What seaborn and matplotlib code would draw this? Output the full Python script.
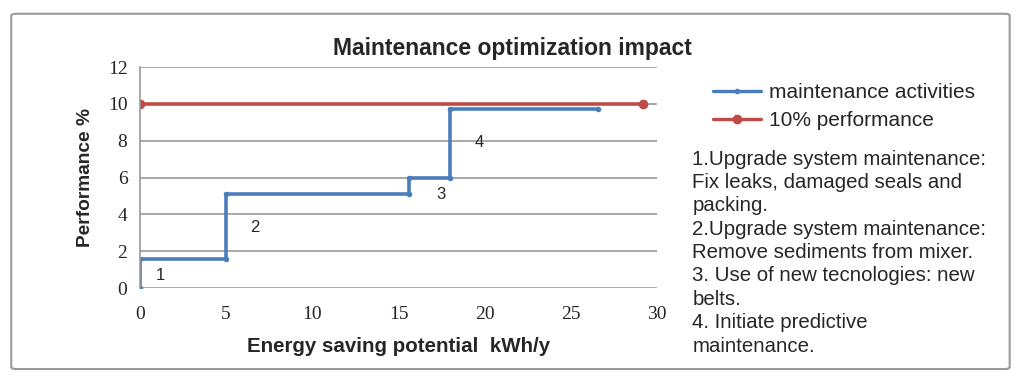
import matplotlib
matplotlib.use('Agg')
import matplotlib.pyplot as plt
from matplotlib.patches import FancyBboxPatch
from matplotlib.lines import Line2D
import pandas as pd
import seaborn as sns

# step curve of the maintenance activities (vertices)
maint_x = [0, 0, 5, 5, 15.6, 15.6, 18, 18, 26.6]
maint_y = [0, 1.6, 1.6, 5.1, 5.1, 6.0, 6.0, 9.7, 9.7]
# 10 % performance reference line
perf_x = [0, 29.2]
perf_y = [10, 10]

step_labels = ['1', '2', '3', '4']
step_label_x = [0.9, 6.4, 17.2, 19.4]
step_label_y = [0.7, 3.3, 5.1, 7.9]

notes = [
    '1.Upgrade system maintenance:',
    'Fix leaks, damaged seals and',
    'packing.',
    '2.Upgrade system maintenance:',
    'Remove sediments from mixer.',
    '3. Use of new tecnologies: new',
    'belts.',
    '4. Initiate predictive',
    'maintenance.',
]

blue = '#4a7ebb'
red = '#be4b48'

sns.set_theme(style='white')
plt.rcParams['font.family'] = ['Liberation Sans', 'DejaVu Sans']

fig = plt.figure(figsize=(10.24, 3.82), dpi=100)
ax = fig.add_axes([0.1367, 0.246, 0.5049, 0.5786])

df_m = pd.DataFrame({'x': maint_x, 'y': maint_y})
df_p = pd.DataFrame({'x': perf_x, 'y': perf_y})
sns.lineplot(data=df_p, x='x', y='y', sort=False, estimator=None, ax=ax, color=red,
             linewidth=2.6, marker='o', markersize=7, markeredgewidth=0)
sns.lineplot(data=df_m, x='x', y='y', sort=False, estimator=None, ax=ax, color=blue,
             linewidth=2.6, marker='o', markersize=4, markeredgewidth=0)

for t, x, y in zip(step_labels, step_label_x, step_label_y):
    ax.text(x, y, t, fontsize=12, family='Liberation Sans', va='center', ha='left')

ax.set_xlim(0, 30)
ax.set_ylim(0, 12)
ax.set_xticks(range(0, 31, 5))
ax.set_yticks(range(0, 13, 2))
ax.yaxis.grid(True, color='#9a9a9a', linewidth=1.2)
ax.set_axisbelow(True)
for s in ['top', 'right', 'bottom']:
    ax.spines[s].set_visible(False)
ax.spines['left'].set_color('#9a9a9a')
ax.spines['left'].set_linewidth(1.2)
ax.tick_params(axis='y', length=0, pad=9, labelsize=14)
ax.tick_params(axis='x', length=0, pad=13, labelsize=14)
for lab in ax.get_xticklabels() + ax.get_yticklabels():
    lab.set_family('Liberation Serif')
ax.set_xlabel('Energy saving potential  kWh/y', fontsize=14.8, fontweight='bold', labelpad=10)
ax.set_ylabel('Performance %', fontsize=13.8, fontweight='bold', labelpad=10)

fig.text(0.5, 0.874, 'Maintenance optimization impact', fontsize=16.5,
         fontweight='bold', ha='center', va='center')

handles = [
    Line2D([], [], color=blue, linewidth=2.4, marker='o', markersize=3),
    Line2D([], [], color=red, linewidth=2.4, marker='o', markersize=6),
]
fig.legend(handles, ['maintenance activities', '10% performance'],
           loc='upper left', bbox_to_anchor=(0.696, 0.783), frameon=False,
           fontsize=15, handlelength=2.3, handletextpad=0.4, labelspacing=0.45,
           borderaxespad=0, borderpad=0)

fig.text(0.676, 0.608, '\n'.join(notes), fontsize=14.7, ha='left', va='top',
         linespacing=1.29)

border = FancyBboxPatch((0.011, 0.034), 0.975, 0.93, transform=fig.transFigure,
                        boxstyle='round,pad=0,rounding_size=0.005',
                        facecolor='none', edgecolor='#9a9a9a', linewidth=1.5)
fig.patches.append(border)

fig.savefig('out.png', dpi=100)
